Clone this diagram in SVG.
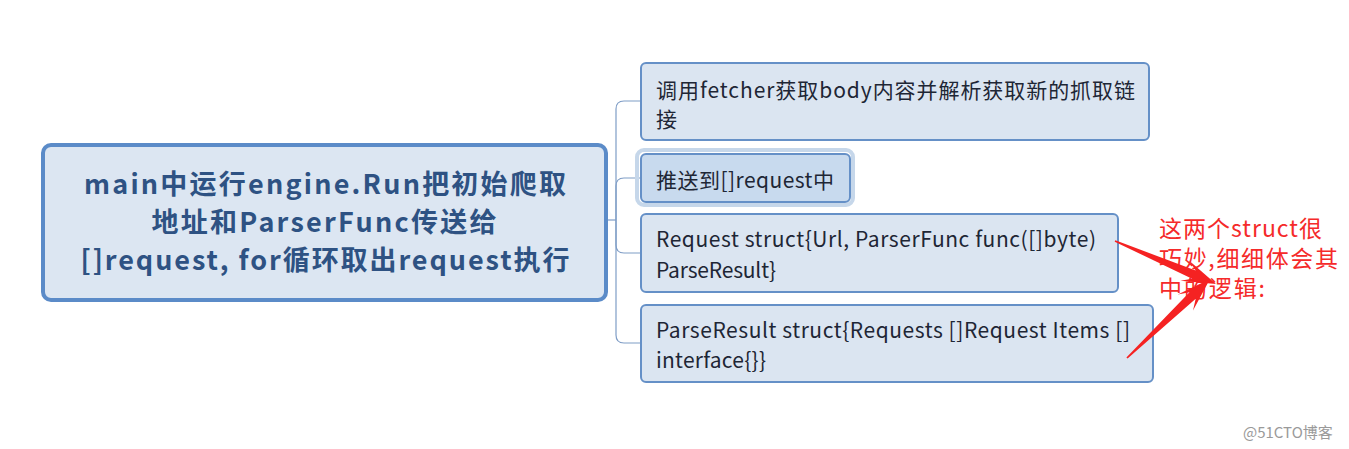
<svg xmlns="http://www.w3.org/2000/svg" width="1349" height="449" viewBox="0 0 1349 449">
<style>
.bg{fill:#ffffff}
.main{fill:#dce6f2;stroke:#5b8bc8;stroke-width:4}
.node{fill:#dbe5f1;stroke:#6590c7;stroke-width:2}
.sel{fill:#c8daee;stroke:#6590c7;stroke-width:2}
.halo{fill:none;stroke:#c6d7ea;stroke-width:4}
.mt{font-family:"Noto Sans CJK SC","Noto Sans",sans-serif;font-size:27px;font-weight:bold;fill:#2e5283;text-anchor:middle}
.nt{font-family:"Noto Sans CJK SC","Noto Sans",sans-serif;font-size:21px;fill:#1e2635}
.rt{font-family:"Noto Sans CJK SC","Noto Sans",sans-serif;font-size:23px;fill:#f52a2a}
.conn{fill:none;stroke:#7f9dc6;stroke-width:1.2}
.arrow{fill:#f52222}
.wm{font-family:"Noto Sans CJK SC","Noto Sans",sans-serif;font-size:15px;fill:#9a9a9a}
</style>
<rect class="bg" x="0" y="0" width="1349" height="449"/>
<g id="connectors">
<path class="conn" d="M606,220 H616"/>
<path class="conn" d="M616,220 V109 Q616,101 624,101 H641"/>
<path class="conn" d="M616,220 V186 Q616,178 624,178 H640"/>
<path class="conn" d="M616,220 V245 Q616,253 624,253 H641"/>
<path class="conn" d="M616,220 V335 Q616,343 624,343 H641"/>
</g>
<g id="main">
<rect class="main" x="43" y="145" width="563" height="155" rx="8"/>
<text class="mt" x="325" y="194" textLength="482">main中运行engine.Run把初始爬取</text>
<text class="mt" x="324" y="232" textLength="345">地址和ParserFunc传送给</text>
<text class="mt" x="325" y="270" textLength="489">[]request, for循环取出request执行</text>
</g>
<g id="node1">
<rect class="node" x="641" y="63" width="508" height="77" rx="5"/>
<text class="nt" x="656" y="98" textLength="479">调用fetcher获取body内容并解析获取新的抓取链</text>
<text class="nt" x="656" y="127">接</text>
</g>
<g id="node2">
<rect class="halo" x="637" y="150" width="216" height="55" rx="7"/>
<rect class="sel" x="641" y="154" width="209" height="48" rx="5"/>
<text class="nt" x="656" y="188" textLength="178">推送到[]request中</text>
</g>
<g id="node3">
<rect class="node" x="641" y="214" width="477" height="78" rx="5"/>
<text class="nt" x="656" y="247" textLength="440">Request struct{Url, ParserFunc func([]byte)</text>
<text class="nt" x="656" y="278" textLength="120">ParseResult}</text>
</g>
<g id="node4">
<rect class="node" x="641" y="305" width="512" height="77" rx="5"/>
<text class="nt" x="656" y="338" textLength="474">ParseResult struct{Requests []Request Items []</text>
<text class="nt" x="656" y="368" textLength="110">interface{}}</text>
</g>
<g id="annotation">
<text class="rt" x="1159" y="237" textLength="163">这两个struct很</text>
<text class="rt" x="1159" y="267" textLength="179">巧妙,细细体会其</text>
<text class="rt" x="1159" y="297" textLength="106">中的逻辑:</text>
<polygon class="arrow" points="1115.3,240.3 1195.7,270.5 1189,260.6 1216,284 1180.4,280.8 1192.1,278.7 1114.7,241.7"/>
<polygon class="arrow" points="1127.6,358.6 1195.7,298.8 1193,310.4 1210,279 1177.8,294.4 1189.5,292.2 1126.4,357.4"/>
</g>
<text class="wm" x="1243" y="438">@51CTO博客</text>
</svg>
